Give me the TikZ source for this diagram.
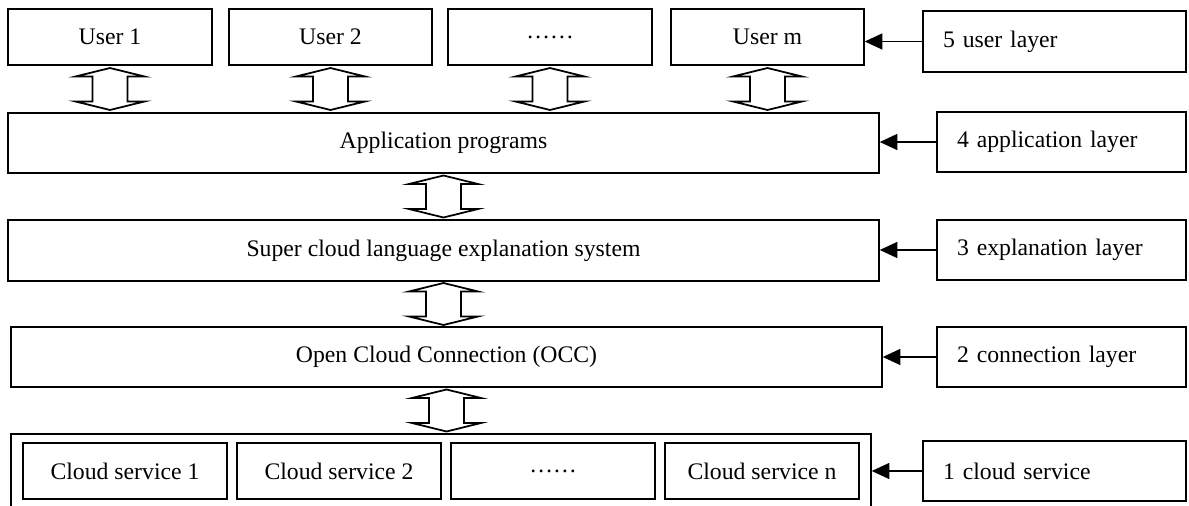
\documentclass[tikz,border=0pt]{standalone}
\usepackage{fontspec}
\setmainfont{Liberation Serif}
\usetikzlibrary{arrows.meta,calc}

\begin{document}
\begin{tikzpicture}[
	box/.style = {draw, line width=.8pt, minimum height=1.2cm, inner sep=0pt, font=\fontsize{13.5}{16}\selectfont},
	layer/.style = {box, text width=#1, align=left, inner xsep=.4cm},
	toward/.style = {-{Triangle[length=10pt,width=9pt]}, line width=1pt},
	updown/.pic = {\draw[line width=1pt] (0,.42) -- (.69,.25) -- (.35,.25) -- (.35,-.25) -- (.69,-.25) -- (0,-.42) -- (-.69,-.25) -- (-.35,-.25) -- (-.35,.25) -- (-.69,.25) -- cycle;}
]
	\useasboundingbox (0,0) rectangle (23.78,10.1);
	\clip (0,0) rectangle (23.78,10.1);
	% users
	\node[box, minimum width=4.08cm, minimum height=1.12cm] (u1) at (2.2,9.36) {User 1};
	\node[box, minimum width=4.06cm, minimum height=1.12cm] (u2) at (6.61,9.36) {User 2};
	\node[box, minimum width=4.08cm, minimum height=1.12cm] (udots) at (11,9.36) {……};
	\node[box, minimum width=3.86cm, minimum height=1.12cm] (um) at (15.35,9.36) {User m};
	% middle layers
	\node[box, minimum width=17.42cm] (app) at (8.87,7.24) {Application programs};
	\node[box, minimum width=17.42cm, minimum height=1.22cm] (super) at (8.87,5.09) {Super cloud language explanation system};
	\node[box, minimum width=17.42cm] (occ) at (8.93,2.96) {Open Cloud Connection (OCC)};
	% cloud services
	\node[box, minimum width=17.2cm, minimum height=2cm] (cloud) at (8.82,.42) {};
	\node[box, minimum width=4.08cm, minimum height=1.12cm] (c1) at (2.5,.68) {Cloud service 1};
	\node[box, minimum width=4.08cm, minimum height=1.12cm] (c2) at (6.78,.68) {Cloud service 2};
	\node[box, minimum width=4.08cm, minimum height=1.12cm] (cdots) at (11.06,.68) {……};
	\node[box, minimum width=3.88cm, minimum height=1.12cm] (cn) at (15.24,.68) {Cloud service n};
	% layer names
	\node[layer=4.46cm, minimum height=1.22cm] (l5) at (21.09,9.27) {5 user layer};
	\node[layer=4.18cm] (l4) at (21.23,7.26) {4 application layer};
	\node[layer=4.18cm] (l3) at (21.23,5.1) {3 explanation layer};
	\node[layer=4.18cm] (l2) at (21.23,2.96) {2 connection layer};
	\node[layer=4.46cm] (l1) at (21.09,.68) {1 cloud service};
	\draw[toward] (l5.west) -- (l5.west -| um.east);
	\draw[toward] (l4.west) -- (l4.west -| app.east);
	\draw[toward] (l3.west) -- (l3.west -| super.east);
	\draw[toward] (l2.west) -- (l2.west -| occ.east);
	\draw[toward] (l1.west) -- (l1.west -| cloud.east);
	% two-way arrows
	\pic at ($(u1.south)!.5!(u1.south |- app.north)$) {updown};
	\pic at ($(u2.south)!.5!(u2.south |- app.north)$) {updown};
	\pic at ($(udots.south)!.5!(udots.south |- app.north)$) {updown};
	\pic at ($(um.south)!.5!(um.south |- app.north)$) {updown};
	\pic at ($(app.south)!.5!(app.south |- super.north)$) {updown};
	\pic at ($(super.south)!.5!(super.south |- occ.north)$) {updown};
	\pic at ($(occ.south)!.5!(occ.south |- cloud.north)$) {updown};
\end{tikzpicture}
\end{document}
